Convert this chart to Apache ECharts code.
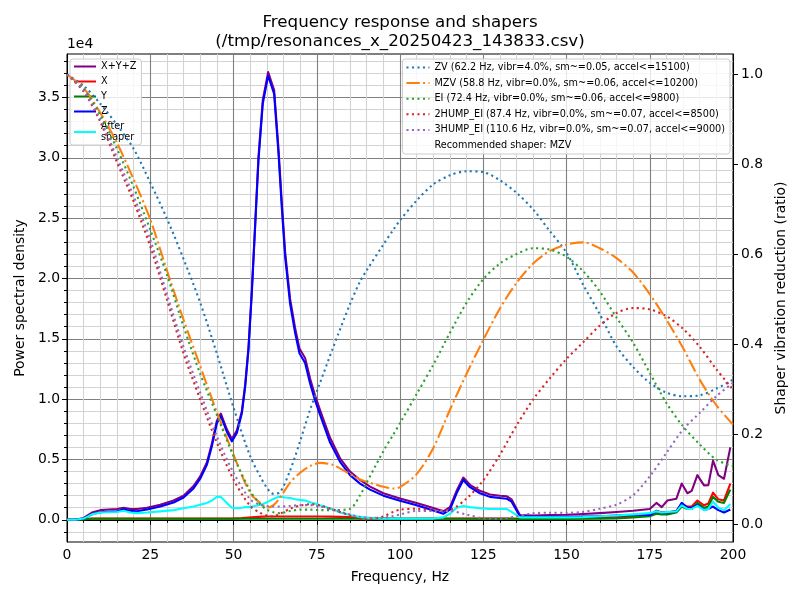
<!DOCTYPE html>
<html>
<head>
<meta charset="utf-8">
<title>Frequency response and shapers</title>
<script src="https://cdn.jsdelivr.net/npm/echarts@6/dist/echarts.min.js"></script>
<style>
  html, body { margin: 0; padding: 0; background: #fff; }
  #chart { width: 800px; height: 600px; }
</style>
</head>
<body>
<div id="chart"></div>
<script>
const FONT = 'DejaVu Sans'

// frequency bins of the PSD curves, Hz
const psdFreq = [0, 2.5, 5, 7.5, 10, 12.5, 15, 17, 19, 21,
  24, 28, 32, 35, 38, 40, 42, 43.5, 45, 46.2,
  48, 49.5, 51, 52.5, 53.5, 54.5, 55.5, 56.5, 57.5, 58.8,
  60.4, 62.2, 63.5, 64.5, 65.5, 67, 68.5, 69.8, 71.5, 73,
  74.5, 76, 79, 82, 85, 88, 91, 95, 100, 105,
  110, 113, 115, 117, 119, 121, 124, 127, 130, 132,
  133.5, 136, 140, 145, 150, 155, 160, 165, 170, 175,
  177, 178.6, 180.3, 183, 184.6, 186.3, 187.6, 189.3, 191.3, 192.6,
  194, 195.6, 197.3, 199.2]

// power spectral density, in units of 1e4
const psdSum = [0, 0, 0.015, 0.06, 0.08, 0.085, 0.09, 0.1, 0.09, 0.09,
  0.1, 0.125, 0.16, 0.2, 0.28, 0.36, 0.475, 0.63, 0.82, 0.88,
  0.75, 0.67, 0.74, 0.9, 1.12, 1.43, 1.9, 2.45, 3.01, 3.48,
  3.71, 3.56, 3.08, 2.63, 2.22, 1.83, 1.59, 1.42, 1.34, 1.17,
  1.03, 0.91, 0.68, 0.51, 0.4, 0.33, 0.275, 0.22, 0.177, 0.14,
  0.097, 0.07, 0.105, 0.24, 0.35, 0.29, 0.24, 0.21, 0.2, 0.195,
  0.17, 0.04, 0.035, 0.04, 0.042, 0.048, 0.055, 0.065, 0.075, 0.09,
  0.14, 0.105, 0.16, 0.175, 0.3, 0.22, 0.24, 0.37, 0.285, 0.287,
  0.49, 0.37, 0.34, 0.6]
const psdX = [0, 0, 0.005, 0.01, 0.01, 0.01, 0.01, 0.01, 0.01, 0.01,
  0.01, 0.01, 0.01, 0.01, 0.01, 0.01, 0.01, 0.01, 0.01, 0.01,
  0.01, 0.01, 0.012, 0.014, 0.016, 0.018, 0.02, 0.022, 0.024, 0.026,
  0.027, 0.028, 0.028, 0.028, 0.028, 0.028, 0.028, 0.028, 0.028, 0.028,
  0.027, 0.027, 0.026, 0.024, 0.022, 0.018, 0.015, 0.012, 0.01, 0.01,
  0.01, 0.01, 0.01, 0.01, 0.01, 0.01, 0.01, 0.01, 0.01, 0.01,
  0.01, 0.008, 0.01, 0.01, 0.01, 0.012, 0.015, 0.02, 0.03, 0.04,
  0.075, 0.06, 0.06, 0.075, 0.13, 0.11, 0.11, 0.16, 0.12, 0.135,
  0.225, 0.17, 0.16, 0.3]
const psdY = [0, 0, 0.005, 0.008, 0.008, 0.008, 0.008, 0.008, 0.008, 0.008,
  0.008, 0.008, 0.008, 0.008, 0.008, 0.008, 0.008, 0.008, 0.008, 0.008,
  0.008, 0.008, 0.008, 0.008, 0.008, 0.008, 0.008, 0.008, 0.008, 0.008,
  0.008, 0.008, 0.008, 0.008, 0.008, 0.008, 0.008, 0.008, 0.008, 0.008,
  0.008, 0.008, 0.008, 0.008, 0.008, 0.008, 0.008, 0.008, 0.008, 0.008,
  0.008, 0.008, 0.008, 0.008, 0.008, 0.008, 0.008, 0.008, 0.008, 0.008,
  0.008, 0.006, 0.006, 0.006, 0.006, 0.008, 0.01, 0.012, 0.02, 0.03,
  0.05, 0.045, 0.045, 0.06, 0.11, 0.09, 0.09, 0.14, 0.1, 0.11,
  0.19, 0.15, 0.14, 0.25]
const psdZ = [0, 0, 0.01, 0.045, 0.063, 0.066, 0.07, 0.085, 0.075, 0.07,
  0.085, 0.11, 0.143, 0.185, 0.26, 0.34, 0.455, 0.61, 0.8, 0.86,
  0.73, 0.65, 0.72, 0.88, 1.1, 1.41, 1.88, 2.43, 2.98, 3.45,
  3.68, 3.53, 3.04, 2.59, 2.18, 1.79, 1.55, 1.38, 1.3, 1.13,
  0.99, 0.87, 0.64, 0.48, 0.37, 0.3, 0.25, 0.2, 0.157, 0.12,
  0.077, 0.05, 0.085, 0.22, 0.33, 0.27, 0.22, 0.19, 0.18, 0.175,
  0.15, 0.03, 0.025, 0.025, 0.025, 0.028, 0.03, 0.035, 0.04, 0.04,
  0.07, 0.06, 0.06, 0.07, 0.14, 0.1, 0.1, 0.124, 0.083, 0.09,
  0.11, 0.08, 0.06, 0.085]
const psdShaped = [0, 0, 0.01, 0.045, 0.06, 0.062, 0.065, 0.075, 0.06, 0.055,
  0.06, 0.07, 0.08, 0.095, 0.11, 0.124, 0.14, 0.16, 0.19, 0.19,
  0.14, 0.1, 0.095, 0.1, 0.105, 0.105, 0.11, 0.115, 0.12, 0.13,
  0.15, 0.175, 0.19, 0.19, 0.185, 0.18, 0.17, 0.165, 0.16, 0.145,
  0.135, 0.12, 0.095, 0.06, 0.04, 0.022, 0.015, 0.01, 0.01, 0.01,
  0.01, 0.02, 0.05, 0.1, 0.115, 0.105, 0.095, 0.09, 0.09, 0.09,
  0.065, 0.02, 0.02, 0.02, 0.02, 0.022, 0.03, 0.035, 0.045, 0.055,
  0.07, 0.06, 0.065, 0.07, 0.12, 0.09, 0.09, 0.115, 0.08, 0.09,
  0.15, 0.1, 0.08, 0.13]

// shaper vibration reduction ratio
const shaperFreq = [0, 5, 10, 15, 20, 25, 30, 35, 40, 45,
  50, 55, 58, 60, 62, 64, 67, 70, 73, 76,
  80, 85, 88, 90, 95, 98, 100, 105, 110, 115,
  120, 125, 130, 135, 140, 145, 150, 155, 160, 165,
  170, 175, 180, 185, 190, 195, 200]
const zvVals = [1.0, 0.975, 0.935, 0.888, 0.835, 0.76, 0.68, 0.59, 0.493, 0.38,
  0.26, 0.152, 0.107, 0.082, 0.068, 0.072, 0.12, 0.185, 0.255, 0.315,
  0.395, 0.49, 0.54, 0.565, 0.622, 0.655, 0.676, 0.72, 0.756, 0.776,
  0.785, 0.783, 0.765, 0.737, 0.7, 0.652, 0.604, 0.533, 0.467, 0.396,
  0.35, 0.315, 0.293, 0.285, 0.287, 0.302, 0.322]
const mzvVals = [1.0, 0.97, 0.915, 0.848, 0.767, 0.678, 0.565, 0.455, 0.352, 0.25,
  0.155, 0.07, 0.048, 0.037, 0.043, 0.06, 0.093, 0.115, 0.13, 0.137,
  0.132, 0.112, 0.1, 0.095, 0.084, 0.08, 0.083, 0.112, 0.17, 0.255,
  0.335, 0.41, 0.48, 0.537, 0.58, 0.608, 0.622, 0.627, 0.614, 0.592,
  0.56, 0.512, 0.455, 0.392, 0.322, 0.265, 0.222]
const eiVals = [1.0, 0.968, 0.91, 0.835, 0.75, 0.655, 0.555, 0.44, 0.335, 0.243,
  0.152, 0.075, 0.045, 0.033, 0.027, 0.025, 0.03, 0.033, 0.033, 0.032,
  0.032, 0.035, 0.065, 0.093, 0.163, 0.2, 0.225, 0.29, 0.355, 0.426,
  0.493, 0.545, 0.58, 0.601, 0.614, 0.611, 0.595, 0.563, 0.518, 0.46,
  0.404, 0.337, 0.27, 0.218, 0.178, 0.144, 0.13]
const hump2Vals = [1.0, 0.962, 0.895, 0.805, 0.718, 0.618, 0.5, 0.38, 0.278, 0.182,
  0.1, 0.041, 0.026, 0.02, 0.018, 0.024, 0.035, 0.042, 0.045, 0.042,
  0.033, 0.02, 0.012, 0.011, 0.018, 0.028, 0.033, 0.035, 0.031, 0.033,
  0.058, 0.098, 0.155, 0.22, 0.278, 0.325, 0.368, 0.405, 0.442, 0.47,
  0.481, 0.478, 0.463, 0.435, 0.395, 0.345, 0.3]
const hump3Vals = [1.0, 0.965, 0.9, 0.815, 0.73, 0.633, 0.512, 0.395, 0.293, 0.196,
  0.115, 0.056, 0.044, 0.041, 0.04, 0.04, 0.041, 0.043, 0.043, 0.04,
  0.033, 0.022, 0.017, 0.015, 0.015, 0.019, 0.022, 0.03, 0.03, 0.03,
  0.022, 0.014, 0.013, 0.018, 0.025, 0.026, 0.026, 0.028, 0.035, 0.044,
  0.065, 0.107, 0.159, 0.211, 0.248, 0.285, 0.315]

const psdNames = ['X+Y+Z', 'X', 'Y', 'Z', 'After\nshaper']
const shaperNames = [
  'ZV (62.2 Hz, vibr=4.0%, sm~=0.05, accel<=15100)',
  'MZV (58.8 Hz, vibr=0.0%, sm~=0.06, accel<=10200)',
  'EI (72.4 Hz, vibr=0.0%, sm~=0.06, accel<=9800)',
  '2HUMP_EI (87.4 Hz, vibr=0.0%, sm~=0.07, accel<=8500)',
  '3HUMP_EI (110.6 Hz, vibr=0.0%, sm~=0.07, accel<=9000)'
]
const recommendedText = 'Recommended shaper: MZV'

// tick positions
const freqTicks = [0, 25, 50, 75, 100, 125, 150, 175, 200]
const psdTicks = [0, 0.5, 1, 1.5, 2, 2.5, 3, 3.5]
const ratioTicks = [0, 0.2, 0.4, 0.6, 0.8, 1.0]

const pairs = (xs, ys) => xs.map((x, i) => [x, ys[i]])

const DOTTED = [2.1, 3.4]
const DASHDOT = [13.3, 3.3, 2.1, 3.3]

const psdSeries = [
  { name: psdNames[0], vals: psdSum, color: '#800080' },
  { name: psdNames[1], vals: psdX, color: '#ff0000' },
  { name: psdNames[2], vals: psdY, color: '#008000' },
  { name: psdNames[3], vals: psdZ, color: '#0000ff' },
  { name: psdNames[4], vals: psdShaped, color: '#00ffff' }
].map(s => ({
  type: 'line',
  name: s.name,
  yAxisIndex: 0,
  data: pairs(psdFreq, s.vals),
  symbol: 'none',
  color: s.color,
  lineStyle: { color: s.color, width: 2.08, join: 'round' },
  z: 2
}))

const shaperSeries = [
  { vals: zvVals, color: '#1f77b4', dash: DOTTED },
  { vals: mzvVals, color: '#ff7f0e', dash: DASHDOT },
  { vals: eiVals, color: '#2ca02c', dash: DOTTED },
  { vals: hump2Vals, color: '#d62728', dash: DOTTED },
  { vals: hump3Vals, color: '#9467bd', dash: DOTTED }
].map((s, i) => ({
  type: 'line',
  name: shaperNames[i],
  yAxisIndex: 1,
  data: pairs(shaperFreq, s.vals),
  symbol: 'none',
  smooth: 0.3,
  color: s.color,
  lineStyle: { color: s.color, width: 2.08, type: s.dash },
  z: 4
}))

// empty entry so the recommendation appears as a legend row
const recommendedSeries = {
  type: 'line', name: recommendedText, yAxisIndex: 1, data: [],
  symbol: 'none', color: 'rgba(0,0,0,0)', lineStyle: { opacity: 0 }
}

const legendBase = {
  orient: 'vertical',
  selectedMode: false,
  backgroundColor: 'rgba(255,255,255,0.8)',
  borderColor: '#cccccc',
  borderWidth: 1,
  borderRadius: 3,
  itemHeight: 11,
  itemStyle: { opacity: 0 },
  textStyle: { fontFamily: FONT, fontSize: 9.7, lineHeight: 11, color: '#000' }
}

const chart = echarts.init(document.getElementById('chart'), null, { renderer: 'canvas' })

chart.setOption({
  animation: false,
  backgroundColor: '#fff',
  textStyle: { fontFamily: FONT },
  title: {
    text: 'Frequency response and shapers\n(/tmp/resonances_x_20250423_143833.csv)',
    left: 'center',
    top: 8,
    textStyle: { fontFamily: FONT, fontSize: 16.7, fontWeight: 'normal', lineHeight: 19, color: '#000' }
  },
  graphic: [{
    type: 'text', left: 67, top: 37,
    style: { text: '1e4', fontFamily: FONT, fontSize: 13.9, fill: '#000' }
  }],
  legend: [
    Object.assign({}, legendBase, {
      data: psdNames,
      left: 70, top: 59,
      itemWidth: 22, itemGap: 4,
      padding: [2, 5, 2, 3],
      z: 3
    }),
    Object.assign({}, legendBase, {
      data: shaperNames.concat([{ name: recommendedText, itemStyle: { opacity: 0 }, lineStyle: { opacity: 0 } }]),
      right: 70, top: 59,
      itemWidth: 23, itemGap: 4.6,
      padding: [3, 5, 3, 3],
      z: 5
    })
  ],
  grid: {
    left: 67, right: 67, top: 54, bottom: 58,
    show: true, borderColor: '#000', borderWidth: 1, backgroundColor: 'transparent'
  },
  xAxis: {
    type: 'value',
    min: 0, max: 200, interval: 25,
    name: 'Frequency, Hz',
    nameLocation: 'middle',
    nameGap: 28,
    nameTextStyle: { fontFamily: FONT, fontSize: 13.9, color: '#000' },
    axisLine: { show: true, lineStyle: { color: '#000', width: 1 } },
    axisTick: { show: true, length: 5, inside: false, lineStyle: { color: '#000' }, customValues: freqTicks },
    axisLabel: { fontFamily: FONT, fontSize: 13.9, color: '#000', margin: 6, customValues: freqTicks },
    minorTick: { show: true, splitNumber: 5, length: 3, lineStyle: { color: '#000' } },
    splitLine: { show: true, lineStyle: { color: '#808080', width: 1.1 } },
    minorSplitLine: { show: true, lineStyle: { color: '#d3d3d3', width: 1.1 } }
  },
  yAxis: [
    {
      type: 'value',
      position: 'left',
      min: -0.184, max: 3.86,
      minInterval: 0.5, maxInterval: 0.5,
      name: 'Power spectral density',
      nameLocation: 'middle',
      nameGap: 36,
      nameTextStyle: { fontFamily: FONT, fontSize: 13.9, color: '#000' },
      axisLine: { show: true, lineStyle: { color: '#000', width: 1 } },
      axisTick: { show: true, length: 5, lineStyle: { color: '#000' }, customValues: psdTicks },
      axisLabel: {
        fontFamily: FONT, fontSize: 13.9, color: '#000', margin: 7,
        customValues: psdTicks,
        formatter: v => v.toFixed(1)
      },
      minorTick: { show: true, splitNumber: 5, length: 3, lineStyle: { color: '#000' } },
      splitLine: { show: true, lineStyle: { color: '#808080', width: 1.1 } },
      minorSplitLine: { show: true, lineStyle: { color: '#d3d3d3', width: 1.1 } }
    },
    {
      type: 'value',
      position: 'right',
      min: -0.0389, max: 1.0456,
      minInterval: 0.2, maxInterval: 0.2,
      name: 'Shaper vibration reduction (ratio)',
      nameLocation: 'middle',
      nameGap: 33,
      nameTextStyle: { fontFamily: FONT, fontSize: 13.9, color: '#000' },
      axisLine: { show: true, lineStyle: { color: '#000', width: 1 } },
      axisTick: { show: true, length: 5, lineStyle: { color: '#000' }, customValues: ratioTicks },
      axisLabel: {
        fontFamily: FONT, fontSize: 13.9, color: '#000', margin: 8,
        customValues: ratioTicks,
        formatter: v => v.toFixed(1)
      },
      splitLine: { show: false }
    }
  ],
  series: psdSeries.concat(shaperSeries, [recommendedSeries])
})
</script>
</body>
</html>
